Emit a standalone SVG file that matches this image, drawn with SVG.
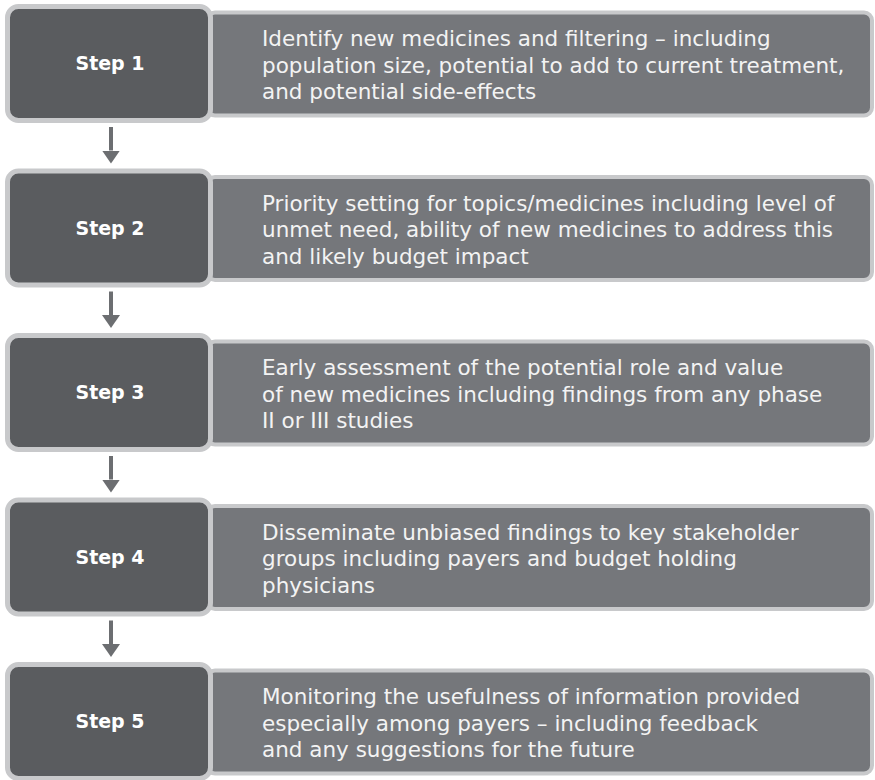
<svg xmlns="http://www.w3.org/2000/svg" width="875" height="780" viewBox="0 0 875 780">
<defs>
<style>
.step rect.lab{fill:#5a5c5f;stroke:#c8c9cb;stroke-width:5}
.step rect.desc{fill:#75777b;stroke:#c8c9cb;stroke-width:4}
.step text.t{font-family:"DejaVu Sans","Liberation Sans",sans-serif;font-weight:bold;font-size:19px;fill:#ffffff;text-anchor:middle}
.step text.d{font-family:"DejaVu Sans","Liberation Sans",sans-serif;font-size:21.5px;fill:#f3f3f3}
.conn line{stroke:#6c6e71;stroke-width:4}
</style>
<marker id="ah" markerUnits="userSpaceOnUse" markerWidth="13" markerHeight="18" refX="0" refY="9" orient="auto">
<path d="M0,0 L13,9 L0,18 z" fill="#6c6e71"/>
</marker>
</defs>
<rect width="875" height="780" fill="#ffffff"/>

<g id="step1" class="step">
<rect class="desc" x="207" y="12.5" width="665" height="103" rx="8"/>
<rect class="lab" x="7.5" y="6.5" width="203" height="114" rx="11"/>
<text class="t" x="110" y="70">Step 1</text>
<text class="d" x="262" y="46">Identify new medicines and filtering – including</text>
<text class="d" x="262" y="72.5">population size, potential to add to current treatment,</text>
<text class="d" x="262" y="99">and potential side-effects</text>
</g>

<g id="step2" class="step">
<rect class="desc" x="207" y="177" width="665" height="103" rx="8"/>
<rect class="lab" x="7.5" y="171" width="203" height="114" rx="11"/>
<text class="t" x="110" y="234.5">Step 2</text>
<text class="d" x="262" y="210.5">Priority setting for topics/medicines including level of</text>
<text class="d" x="262" y="237">unmet need, ability of new medicines to address this</text>
<text class="d" x="262" y="263.5">and likely budget impact</text>
</g>

<g id="step3" class="step">
<rect class="desc" x="207" y="341.5" width="665" height="103" rx="8"/>
<rect class="lab" x="7.5" y="335.5" width="203" height="114" rx="11"/>
<text class="t" x="110" y="399">Step 3</text>
<text class="d" x="262" y="375">Early assessment of the potential role and value</text>
<text class="d" x="262" y="401.5">of new medicines including findings from any phase</text>
<text class="d" x="262" y="428">II or III studies</text>
</g>

<g id="step4" class="step">
<rect class="desc" x="207" y="506" width="665" height="103" rx="8"/>
<rect class="lab" x="7.5" y="500" width="203" height="114" rx="11"/>
<text class="t" x="110" y="563.5">Step 4</text>
<text class="d" x="262" y="539.5">Disseminate unbiased findings to key stakeholder</text>
<text class="d" x="262" y="566">groups including payers and budget holding</text>
<text class="d" x="262" y="592.5">physicians</text>
</g>

<g id="step5" class="step">
<rect class="desc" x="207" y="670.5" width="665" height="103" rx="8"/>
<rect class="lab" x="7.5" y="664.5" width="203" height="114" rx="11"/>
<text class="t" x="110" y="728">Step 5</text>
<text class="d" x="262" y="704">Monitoring the usefulness of information provided</text>
<text class="d" x="262" y="730.5">especially among payers – including feedback</text>
<text class="d" x="262" y="757">and any suggestions for the future</text>
</g>

<g id="connectors" class="conn">
<line x1="111" y1="127" x2="111" y2="150.5" marker-end="url(#ah)"/>
<line x1="111" y1="291.5" x2="111" y2="315" marker-end="url(#ah)"/>
<line x1="111" y1="456" x2="111" y2="479.5" marker-end="url(#ah)"/>
<line x1="111" y1="620.5" x2="111" y2="644" marker-end="url(#ah)"/>
</g>
</svg>
